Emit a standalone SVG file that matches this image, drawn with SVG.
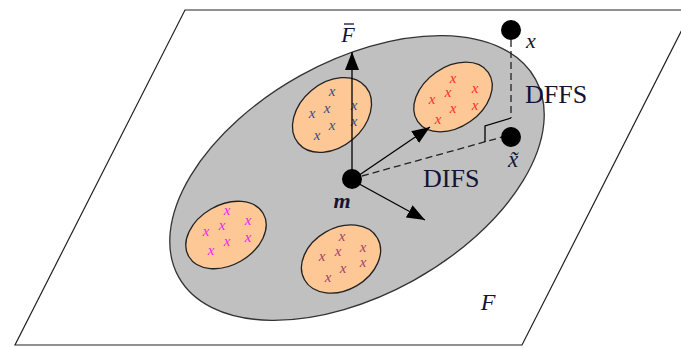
<svg xmlns="http://www.w3.org/2000/svg" width="681" height="348" viewBox="0 0 681 348">
<style>
.pl{fill:#fff;stroke:#222;stroke-width:1.2}
.big{fill:#c0c0c0;stroke:#333;stroke-width:1.3}
.cl{fill:#fdc896;stroke:#222;stroke-width:1.3}
.xm{font-family:"Liberation Serif",serif;font-style:italic;font-size:15px;text-anchor:middle}
.lab{font-family:"Liberation Serif",serif;font-style:italic;fill:#141432;text-anchor:middle}
.txt{font-family:"Liberation Serif",serif;fill:#141432;font-size:26px}
.ln{stroke:#000;stroke-width:1.3;fill:none}
.dash{stroke:#222;stroke-width:1.3;fill:none;stroke-dasharray:7,4}
</style>
<defs>
<marker id="ah" markerUnits="userSpaceOnUse" markerWidth="20" markerHeight="14" refX="18" refY="7" orient="auto">
<path d="M0,0 L18,7 L0,14 Z" fill="#000"/>
</marker>
</defs>
<g id="plane">
<polygon class="pl" points="185,10 692,10 522,345 15,345"/>
<text class="lab" x="488" y="310" font-size="24">F</text>
</g>
<g id="space">
<ellipse class="big" cx="357" cy="178" rx="204" ry="117" transform="rotate(-29 357 178)"/>
</g>
<g id="cluster1">
<ellipse class="cl" cx="332" cy="115" rx="44" ry="32" transform="rotate(-40 332 115)"/>
<g class="xm" fill="#3b4a86">
<text x="332" y="96">x</text><text x="354" y="110">x</text><text x="327" y="113">x</text><text x="312" y="118">x</text><text x="354" y="126">x</text><text x="332" y="130">x</text><text x="317" y="140">x</text>
</g>
</g>
<g id="cluster2">
<ellipse class="cl" cx="453" cy="97" rx="43" ry="30" transform="rotate(-35 453 97)"/>
<g class="xm" fill="#ff2a2a">
<text x="453" y="83">x</text><text x="475" y="93">x</text><text x="448" y="97">x</text><text x="432" y="104">x</text><text x="475" y="110">x</text><text x="453" y="113">x</text><text x="438" y="124">x</text>
</g>
</g>
<g id="cluster3">
<ellipse class="cl" cx="226" cy="235" rx="43" ry="30" transform="rotate(-30 226 235)"/>
<g class="xm" fill="#f020f0">
<text x="227" y="215">x</text><text x="248" y="225">x</text><text x="222" y="230">x</text><text x="206" y="236">x</text><text x="248" y="242">x</text><text x="227" y="246">x</text><text x="211" y="255">x</text>
</g>
</g>
<g id="cluster4">
<ellipse class="cl" cx="341" cy="259" rx="42" ry="31" transform="rotate(-30 341 259)"/>
<g class="xm" fill="#a8406a">
<text x="342" y="241">x</text><text x="363" y="252">x</text><text x="338" y="256">x</text><text x="322" y="261">x</text><text x="363" y="267">x</text><text x="343" y="273">x</text><text x="328" y="282">x</text>
</g>
</g>
<g id="connectors">
<line class="ln" x1="352" y1="180" x2="352" y2="52" marker-end="url(#ah)"/>
<line class="ln" x1="352" y1="180" x2="430" y2="127" marker-end="url(#ah)"/>
<line class="ln" x1="352" y1="180" x2="425" y2="220" marker-end="url(#ah)"/>
<line class="dash" x1="362" y1="176" x2="506" y2="136"/>
<line class="dash" x1="511" y1="40" x2="511" y2="118"/>
<path class="ln" d="M511,118 L485,126 L485,142" stroke-width="1"/>
</g>
<g id="m">
<circle cx="352" cy="179" r="10" fill="#000"/>
<text class="lab" x="342" y="208" font-size="22" font-weight="bold">m</text>
</g>
<g id="Fbar">
<text class="lab" x="348" y="42" font-size="22">F</text>
<line x1="344" y1="24" x2="354" y2="24" stroke="#141432" stroke-width="1.3"/>
</g>
<g id="x">
<circle cx="511" cy="30" r="10" fill="#000"/>
<text class="lab" x="531" y="48" font-size="22">x</text>
</g>
<g id="xtilde">
<circle cx="511" cy="137" r="10" fill="#000"/>
<text class="lab" x="513" y="167" font-size="23">x̃</text>
</g>
<g id="labels">
<text class="txt" x="525" y="103">DFFS</text>
<text class="txt" x="423" y="187">DIFS</text>
</g>
</svg>
